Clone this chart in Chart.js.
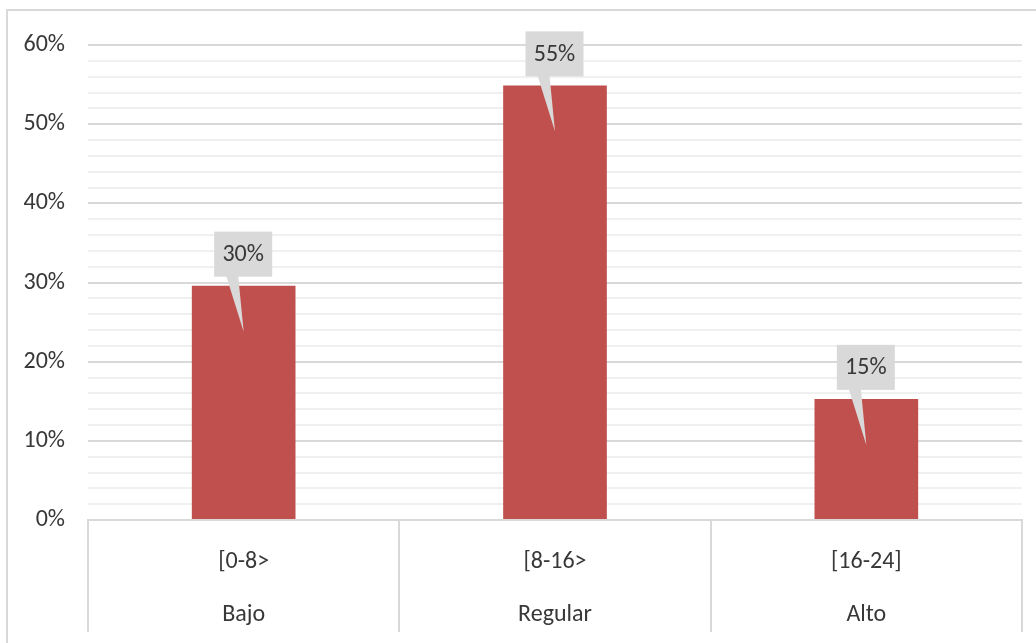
<!DOCTYPE html>
<html>
<head>
<meta charset="utf-8">
<script src="https://cdn.jsdelivr.net/npm/chart.js@4.4.1/dist/chart.umd.min.js"></script>
<style>
  html, body { margin: 0; padding: 0; background: #ffffff; overflow: hidden; width: 1036px; height: 643px; }
  #frame { position: absolute; left: 6px; top: 9px; width: 1100px; height: 700px;
           border-top: 2px solid #d9d9d9; border-left: 2px solid #d9d9d9; }
  #wrap { position: absolute; left: 0; top: 0; width: 1036px; height: 643px; }
</style>
</head>
<body>
<div id="frame"></div>
<div id="wrap"><canvas id="c"></canvas></div>
<script>
const rangeLabels = ["[0-8>", "[8-16>", "[16-24]"];
const levelLabels = ["Bajo", "Regular", "Alto"];
const percentValues = [29.6, 54.9, 15.3];
const yTickValues = [0, 10, 20, 30, 40, 50, 60];

const FONT = "Carlito, 'Liberation Sans', sans-serif";
const TEXT = '#383838';

const calloutPlugin = {
  id: 'callouts',
  afterDatasetsDraw(chart) {
    const ctx = chart.ctx;
    const meta = chart.getDatasetMeta(0);
    meta.data.forEach((bar, i) => {
      const cx = bar.x;
      const top = bar.y;
      const bw = 58, bh = 45;
      const left = cx - 29.5;
      const bottom = top - 9;
      const boxTop = bottom - bh;
      ctx.save();
      ctx.fillStyle = '#d9d9d9';
      ctx.beginPath();
      ctx.moveTo(left + 12, bottom - 1);
      ctx.lineTo(cx, top + 46);
      ctx.lineTo(left + 24, bottom - 1);
      ctx.closePath();
      ctx.fill();
      ctx.fillRect(left, boxTop, bw, bh);
      ctx.fillStyle = TEXT;
      ctx.font = "24px " + FONT;
      ctx.textAlign = 'center';
      ctx.textBaseline = 'middle';
      ctx.fillText(Math.round(percentValues[i]) + '%', left + bw / 2, boxTop + bh / 2 + 1);
      ctx.restore();
    });
  }
};

new Chart(document.getElementById('c'), {
  type: 'bar',
  data: {
    labels: rangeLabels.map((r, i) => [r, levelLabels[i]]),
    datasets: [{
      data: percentValues,
      backgroundColor: '#c0504d',
      categoryPercentage: 1.0,
      barPercentage: 0.333
    }]
  },
  plugins: [calloutPlugin],
  options: {
    responsive: true,
    maintainAspectRatio: false,
    animation: false,
    layout: { padding: { top: 45, right: 14, left: 0, bottom: 0 } },
    plugins: { legend: { display: false }, tooltip: { enabled: false } },
    scales: {
      x: {
        grid: {
          offset: true,
          drawOnChartArea: false,
          drawTicks: true,
          tickLength: 112,
          color: '#d9d9d9',
          lineWidth: 2
        },
        border: { display: true, color: '#d9d9d9', width: 2 },
        ticks: {
          color: TEXT,
          font: { family: FONT, size: 24, lineHeight: 53 / 24 },
          padding: -96.5,
          maxRotation: 0,
          autoSkip: false
        },
        afterFit(scale) { scale.height = 123; }
      },
      y: {
        min: 0,
        max: 60,
        afterBuildTicks(scale) {
          const t = [];
          for (let v = 0; v <= 60; v += 2) t.push({ value: v });
          scale.ticks = t;
        },
        grid: {
          drawTicks: false,
          color: (c) => (c.tick && yTickValues.includes(c.tick.value)) ? '#d9d9d9' : '#f0f0f0',
          lineWidth: 2
        },
        border: { display: false },
        ticks: {
          autoSkip: false,
          color: TEXT,
          padding: 23,
          font: { family: FONT, size: 24 },
          callback: (v) => yTickValues.includes(v) ? v + '%' : ''
        },
        afterFit(scale) { scale.width = 88; }
      }
    }
  }
});
</script>
</body>
</html>
